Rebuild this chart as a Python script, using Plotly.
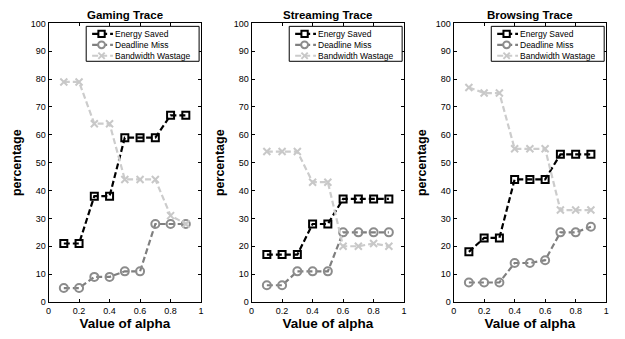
import plotly.graph_objects as go

alpha = [0.1, 0.2, 0.3, 0.4, 0.5, 0.6, 0.7, 0.8, 0.9]
titles = ["Gaming Trace", "Streaming Trace", "Browsing Trace"]
series_names = ["Energy Saved", "Deadline Miss", "Bandwidth Wastage"]

gaming_energy = [21, 21, 38, 38, 59, 59, 59, 67, 67]
gaming_deadline = [5, 5, 9, 9, 11, 11, 28, 28, 28]
gaming_bandwidth = [79, 79, 64, 64, 44, 44, 44, 31, 28]

streaming_energy = [17, 17, 17, 28, 28, 37, 37, 37, 37]
streaming_deadline = [6, 6, 11, 11, 11, 25, 25, 25, 25]
streaming_bandwidth = [54, 54, 54, 43, 43, 20, 20, 21, 20]

browsing_energy = [18, 23, 23, 44, 44, 44, 53, 53, 53]
browsing_deadline = [7, 7, 7, 14, 14, 15, 25, 25, 27]
browsing_bandwidth = [77, 75, 75, 55, 55, 55, 33, 33, 33]

x_ticks = [0, 0.2, 0.4, 0.6, 0.8, 1]
y_ticks = [0, 10, 20, 30, 40, 50, 60, 70, 80, 90, 100]

panels = [
    [gaming_energy, gaming_deadline, gaming_bandwidth],
    [streaming_energy, streaming_deadline, streaming_bandwidth],
    [browsing_energy, browsing_deadline, browsing_bandwidth],
]

styles = [
    dict(line_color="#000000", marker_color="#000000", symbol="square-open", size=7),
    dict(line_color="#7f7f7f", marker_color="#8c8c8c", symbol="circle-open", size=8),
    dict(line_color="#cccccc", marker_color="#c8c8c8", symbol="x-thin-open", size=7),
]

W, H = 625, 339
lefts = [46, 251, 455]
pw = 154
ytop, ybot = 19, 306
FONT = "Liberation Sans, Arial, sans-serif"
DASH = "6px,3px"


def px(x):
    return x / W


def py(y):
    return 1 - y / H


fig = go.Figure()
layout = {}
shapes = []
for i, (data, title) in enumerate(zip(panels, titles)):
    idx = "" if i == 0 else str(i + 1)
    for vals, name, st in zip(data, series_names, styles):
        fig.add_trace(go.Scatter(
            x=alpha, y=vals, name=name, mode="lines+markers", showlegend=False,
            xaxis="x" + idx, yaxis="y" + idx,
            line=dict(color=st["line_color"], width=2.2, dash=DASH),
            marker=dict(symbol=st["symbol"], size=st["size"], color=st["marker_color"],
                        line=dict(width=2, color=st["marker_color"])),
        ))
    L = lefts[i]
    x0 = px(L)
    x1 = px(L + pw)
    axcommon = dict(showline=True, linecolor="#000", linewidth=1, mirror="ticks",
                    ticks="inside", ticklen=3, tickcolor="#000", showgrid=False,
                    zeroline=False, tickfont=dict(size=9, family=FONT, color="#000"))
    layout["xaxis" + idx] = dict(domain=[x0, x1], range=[0, 1], tickvals=x_ticks,
                                 ticktext=["0", "0.2", "0.4", "0.6", "0.8", "1"],
                                 anchor="y" + idx,
                                 title=dict(text="<b>Value of alpha</b>", standoff=3,
                                            font=dict(size=13.5, family=FONT, color="#000")),
                                 **axcommon)
    layout["yaxis" + idx] = dict(domain=[py(ybot), py(ytop)], range=[0, 100],
                                 tickvals=y_ticks, anchor="x" + idx,
                                 title=dict(text="<b>percentage</b>", standoff=6,
                                            font=dict(size=12.5, family=FONT, color="#000")),
                                 **axcommon)
    fig.add_annotation(x=(x0 + x1) / 2, y=py(10), xref="paper", yref="paper",
                       text="<b>" + title + "</b>", showarrow=False,
                       font=dict(size=11.5, family=FONT, color="#000"),
                       xanchor="center", yanchor="middle")

    # custom compact legend box
    shapes.append(dict(type="rect", xref="paper", yref="paper",
                       x0=px(L + 38), x1=px(L + 152), y0=py(58), y1=py(22),
                       line=dict(color="#000", width=1), fillcolor="white", layer="above"))
    for k, (name, st) in enumerate(zip(series_names, styles)):
        yy = 29.7 + 11.3 * k
        shapes.append(dict(type="line", xref="paper", yref="paper",
                           x0=px(L + 44), x1=px(L + 65), y0=py(yy), y1=py(yy),
                           line=dict(color=st["line_color"], width=2.2, dash=DASH),
                           layer="above"))
        cx = L + 53.5
        r = 3.2
        if k == 0:
            shapes.append(dict(type="rect", xref="paper", yref="paper",
                               x0=px(cx - r), x1=px(cx + r), y0=py(yy + r), y1=py(yy - r),
                               line=dict(color=st["marker_color"], width=2),
                               fillcolor="white", layer="above"))
        elif k == 1:
            shapes.append(dict(type="circle", xref="paper", yref="paper",
                               x0=px(cx - 3.5), x1=px(cx + 3.5), y0=py(yy + 3.5), y1=py(yy - 3.5),
                               line=dict(color=st["marker_color"], width=2),
                               fillcolor="white", layer="above"))
        else:
            for dy in (-1, 1):
                shapes.append(dict(type="line", xref="paper", yref="paper",
                                   x0=px(cx - r), x1=px(cx + r),
                                   y0=py(yy - dy * r), y1=py(yy + dy * r),
                                   line=dict(color=st["marker_color"], width=2),
                                   layer="above"))
        fig.add_annotation(x=px(L + 65), y=py(yy), xref="paper", yref="paper",
                           text=name, showarrow=False, xanchor="left", yanchor="middle",
                           font=dict(size=8.5, family=FONT, color="#000"))

fig.update_layout(width=W, height=H, margin=dict(l=0, r=0, t=0, b=0),
                  plot_bgcolor="white", paper_bgcolor="white", showlegend=False,
                  shapes=shapes, **layout)
fig.write_html("out.html")
